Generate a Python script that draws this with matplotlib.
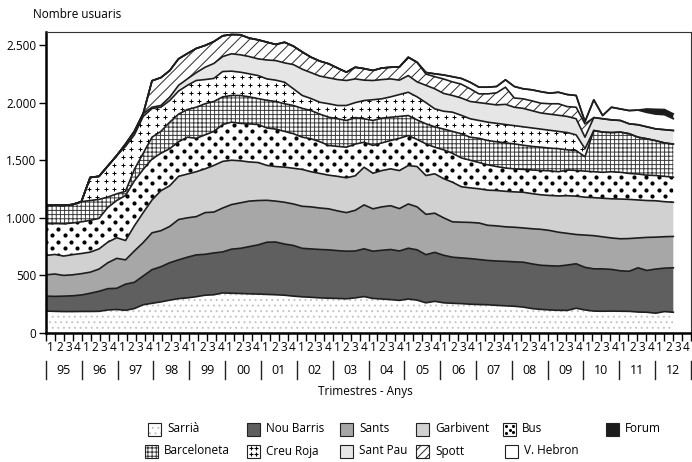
import numpy as np
import matplotlib
matplotlib.use('Agg')
import matplotlib.pyplot as plt
from matplotlib.patches import Rectangle
from matplotlib.transforms import blended_transform_factory

plt.rcParams['font.family'] = ['Open Sans', 'DejaVu Sans']
plt.rcParams['hatch.linewidth'] = 0.7

# Quarter / year labels (1995 Q1 .. 2012 Q4)
quarters = ['1', '2', '3', '4'] * 18
years = ['95', '96', '97', '98', '99', '00', '01', '02', '03',
         '04', '05', '06', '07', '08', '09', '10', '11', '12']

# Users per service and quarter
sarria = [190, 188, 186, 186, 187, 187, 188, 200, 204, 197,
          212, 245, 258, 270, 285, 298, 305, 315, 328, 332,
          348, 345, 343, 340, 338, 335, 332, 328, 320, 314,
          310, 305, 302, 300, 297, 305, 316, 300, 295, 290,
          283, 295, 285, 262, 275, 262, 258, 255, 250, 247,
          245, 240, 236, 232, 225, 212, 205, 200, 197, 196,
          215, 200, 190, 189, 190, 189, 188, 182, 180, 172,
          186, 180]
nou_barris = [130, 130, 134, 137, 143, 158, 174, 185, 184, 227,
              228, 250, 292, 305, 325, 337, 353, 363, 355, 363,
              356, 383, 392, 410, 427, 453, 458, 444, 440, 421,
              420, 420, 420, 415, 413, 407, 415, 410, 423, 435,
              429, 441, 437, 418, 425, 413, 400, 397, 396, 391,
              385, 385, 386, 386, 390, 388, 383, 384, 384, 394,
              386, 370, 367, 368, 362, 351, 348, 384, 363, 383,
              377, 386]
sants = [185, 194, 180, 182, 185, 183, 193, 225, 260, 211,
         272, 290, 320, 313, 315, 350, 342, 332, 362, 355,
         381, 387, 395, 395, 385, 364, 355, 363, 360, 365,
         365, 360, 356, 345, 335, 353, 381, 368, 377, 380,
         368, 384, 373, 350, 340, 325, 307, 310, 314, 317,
         305, 305, 300, 300, 297, 305, 312, 306, 294, 275,
         254, 280, 288, 278, 273, 278, 284, 259, 287, 277,
         273, 272]
garbivent = [168, 170, 168, 175, 175, 174, 175, 179, 179, 168,
             218, 260, 285, 347, 353, 375, 380, 390, 380, 405,
             405, 385, 365, 340, 330, 303, 300, 305, 310, 320,
             305, 300, 292, 300, 302, 300, 327, 309, 315, 320,
             330, 334, 350, 337, 342, 340, 344, 308, 300, 297,
             305, 307, 308, 307, 310, 305, 300, 304, 315, 327,
             333, 329, 330, 335, 340, 345, 340, 330, 320, 316,
             304, 297]
bus = [275, 268, 280, 275, 275, 276, 265, 301, 323, 391,
       390, 375, 355, 325, 322, 300, 320, 290, 295, 295,
       320, 330, 325, 330, 330, 325, 325, 310, 300, 280,
       286, 275, 258, 260, 266, 275, 217, 241, 240, 246,
       280, 260, 235, 275, 231, 250, 251, 250, 240, 228,
       220, 208, 202, 200, 198, 205, 211, 214, 210, 223,
       223, 226, 225, 225, 235, 232, 225, 225, 220, 219,
       220, 217]
barceloneta = [159, 160, 160, 160, 175, 172, 165, 90, 58, 36,
               100, 140, 190, 190, 230, 240, 240, 270, 270, 260,
               240, 232, 242, 235, 225, 240, 240, 240, 245, 250,
               245, 240, 245, 240, 232, 230, 204, 217, 215, 202,
               190, 174, 170, 174, 177, 180, 190, 210, 200, 210,
               211, 215, 218, 217, 210, 205, 202, 197, 200, 175,
               173, 125, 358, 349, 340, 349, 345, 320, 316, 303,
               290, 288]
creu_roja = [0, 0, 0, 0, 0, 200, 200, 270, 332, 390,
             300, 320, 249, 210, 188, 200, 210, 232, 210, 200,
             220, 211, 202, 200, 200, 186, 185, 187, 145, 112,
             104, 103, 117, 115, 130, 130, 158, 180, 168, 177,
             190, 202, 200, 184, 156, 155, 167, 160, 160, 155,
             159, 160, 160, 158, 160, 160, 157, 155, 150, 150,
             136, 70, 0, 0, 0, 0, 0, 0, 0, 0,
             0, 0]
sant_pau = [0, 0, 0, 0, 0, 0, 0, 0, 0, 20,
            30, 25, 11, 15, 29, 50, 56, 68, 107, 130,
            130, 151, 151, 150, 145, 164, 170, 168, 210, 228,
            225, 227, 225, 225, 217, 206, 177, 167, 167, 156,
            125, 145, 130, 150, 174, 155, 145, 150, 150, 155,
            160, 160, 175, 160, 160, 150, 140, 140, 140, 140,
            140, 100, 112, 116, 110, 101, 86, 108, 104, 102,
            115, 118]
spott = [0, 0, 0, 0, 0, 0, 0, 0, 0, 0,
         0, 0, 230, 242, 231, 230, 220, 210, 189, 190,
         180, 167, 174, 160, 165, 155, 140, 179, 160, 150,
         134, 130, 122, 100, 72, 101, 100, 87, 100, 101,
         115, 159, 170, 98, 105, 125, 118, 120, 110, 76,
         86, 105, 149, 80, 83, 85, 85, 90, 100, 85,
         100, 115, 0, 0, 0, 0, 0, 0, 0, 0,
         0, 0]
v_hebron = [0, 0, 0, 0, 0, 0, 0, 0, 0, 0,
            0, 0, 0, 0, 0, 0, 0, 0, 0, 0,
            0, 0, 0, 0, 0, 0, 0, 0, 0, 0,
            0, 0, 0, 0, 0, 0, 0, 0, 0, 0,
            0, 0, 0, 14, 25, 35, 45, 50, 57, 58,
            58, 55, 64, 100, 87, 96, 100, 92, 100, 105,
            102, 20, 154, 28, 110, 100, 115, 127, 125, 128,
            130, 102]
forum = [0] * 68 + [30, 42, 45, 42]

series = [sarria, nou_barris, sants, garbivent, bus, barceloneta,
          creu_roja, sant_pau, spott, v_hebron, forum]
faces = ['white', '#5f5f5f', '#a7a7a7', '#d1d1d1', 'white', 'white',
         'white', '#e6e6e6', 'white', 'white', '#1c1c1c']
hatches = ['...', None, None, None, None, '++++', None, None, '///', None, None]
hatch_cols = ['#c4c4c4', None, None, None, None, '#3c3c3c', None, None,
              '#2a2a2a', None, None]

n = len(sarria)
x = np.arange(n)
xmax = 73
ymax = 2613

fig = plt.figure(figsize=(6.92, 4.62), dpi=100)
ax = fig.add_axes([46 / 692, 1 - 333 / 462, 645 / 692, 301 / 462])

polys = ax.stackplot(x, *series, colors=faces, linewidth=0)
for p, h, hc in zip(polys, hatches, hatch_cols):
    if h:
        p.set_hatch(h)
        p.set_edgecolor(hc)
    p.set_linewidth(0)

# point patterns for Bus (dots) and Creu Roja (plus signs)
px_x = 645 / xmax
px_y = 301 / ymax


def mark_fill(poly, step_x, step_y, stagger, **kw):
    gx, gy = [], []
    for r, yy in enumerate(np.arange(step_y / 2, ymax, step_y / px_y)):
        off = step_x / 2 if (stagger and r % 2) else 0
        for xx in np.arange(off, xmax * px_x, step_x):
            gx.append(xx / px_x)
            gy.append(yy)
    sc = ax.scatter(gx, gy, **kw)
    sc.set_clip_path(poly.get_paths()[0], ax.transData)


mark_fill(polys[4], 12.5, 6.5, True, s=9, c='black', marker='o', linewidths=0)
mark_fill(polys[6], 8.5, 8, False, s=12, c='black', marker='+', linewidths=0.7)

tops = np.cumsum(np.array(series), axis=0)
for t in tops:
    ax.plot(x, t, color='#1e1e1e', lw=1.2)

ax.set_xlim(0, xmax)
ax.set_ylim(0, ymax)

yt = [0, 500, 1000, 1500, 2000, 2500]
ax.set_yticks(yt, [f'{v:,}'.replace(',', '.') for v in yt])
ax.tick_params(axis='y', length=5, width=1, labelsize=8.5, pad=2)

step = xmax / n
ax.set_xticks(np.arange(n + 1) * step, [''] * (n + 1))
ax.set_xticks((np.arange(n) + 0.5) * step, quarters, minor=True)
ax.tick_params(axis='x', which='major', length=6, width=1)
ax.tick_params(axis='x', which='minor', length=0, labelsize=8.5, pad=6)

for s in ['left', 'bottom']:
    ax.spines[s].set_linewidth(1.8)
for s in ['top', 'right']:
    ax.spines[s].set_linewidth(0.8)
    ax.spines[s].set_color('#333333')

trans = blended_transform_factory(ax.transData, ax.transAxes)
for k in range(len(years) + 1):
    xk = 4 * k * step
    ax.plot([xk, xk], [-0.093, -0.153], transform=trans, clip_on=False,
            color='#222222', lw=1)
for k, yl in enumerate(years):
    ax.text((4 * k + 2) * step, -0.123, yl, transform=trans, ha='center',
            va='center', fontsize=9)

fig.text(33 / 692, 1 - 14 / 462, 'Nombre usuaris', fontsize=8.5, va='center')
fig.text(365 / 692, 1 - 392 / 462, 'Trimestres - Anys', fontsize=8.5,
         ha='center', va='center')

# legend, drawn in pixel coordinates
lax = fig.add_axes([0, 0, 1, 1], frameon=False)
lax.set_xlim(0, 692)
lax.set_ylim(462, 0)
lax.set_axis_off()

legend_items = [
    ('Sarrià', 148, 429, 0), ('Nou Barris', 247, 429, 1), ('Sants', 340, 429, 2),
    ('Garbivent', 416, 429, 3), ('Bus', 503, 429, 4), ('Forum', 606, 429, 10),
    ('Barceloneta', 145, 451, 5), ('Creu Roja', 247, 451, 6),
    ('Sant Pau', 340, 451, 7), ('Spott', 416, 451, 8), ('V. Hebron', 505, 451, 9),
]
box = 13
for name, bx, by, idx in legend_items:
    h = hatches[idx]
    if idx == 8:
        h = '////'
    r = Rectangle((bx, by - box / 2), box, box, facecolor=faces[idx],
                  edgecolor=hatch_cols[idx] if h else 'none', hatch=h, lw=0)
    lax.add_patch(r)
    lax.add_patch(Rectangle((bx, by - box / 2), box, box, facecolor='none',
                            edgecolor='#222222', lw=0.8))
    if idx == 4:
        dx = [0.25, 0.75, 0.5, 0.25, 0.75]
        dy = [0.25, 0.3, 0.55, 0.8, 0.75]
        lax.scatter([bx + d * box for d in dx], [by - box / 2 + d * box for d in dy],
                    s=5, c='black', linewidths=0)
    if idx == 6:
        dx = [0.3, 0.7, 0.3, 0.7]
        dy = [0.3, 0.3, 0.72, 0.72]
        lax.scatter([bx + d * box for d in dx], [by - box / 2 + d * box for d in dy],
                    s=12, c='black', marker='+', linewidths=0.8)
    lax.text(bx + box + 6, by, name, fontsize=8.5, va='center')

fig.savefig('out.png', dpi=100)
